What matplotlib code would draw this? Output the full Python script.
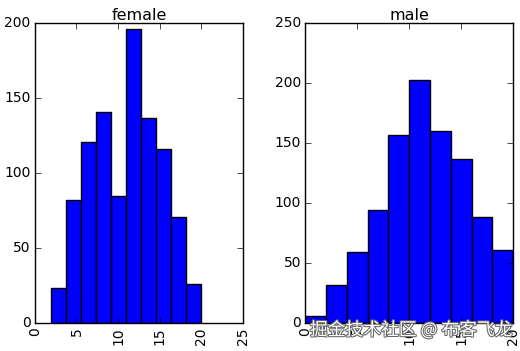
import numpy as np
import matplotlib.pyplot as plt
import matplotlib.patheffects as pe

plt.style.use('classic')

# conteos por bin
female_edges  = [2.0, 3.8, 5.6, 7.4, 9.2, 11.0, 12.8, 14.6, 16.4, 18.2, 20.0]
female_counts = [23, 82, 121, 141, 85, 196, 137, 116, 71, 26]
male_edges    = [0, 2, 4, 6, 8, 10, 12, 14, 16, 18, 20]
male_counts   = [6, 32, 59, 94, 157, 203, 160, 137, 88, 61]

fig = plt.figure(figsize=(5.2, 3.51), dpi=100, facecolor='white')
ax1 = fig.add_axes([0.067, 0.080, 0.400, 0.854])
ax2 = fig.add_axes([0.587, 0.080, 0.400, 0.854])

def histo(ax, edges, counts, title, xmax, ymax):
    edges = np.array(edges, dtype=float)
    ax.hist(edges[:-1], bins=edges, weights=counts, color='b', edgecolor='k', linewidth=1)
    ax.set_title(title, fontsize=11.5, pad=2)
    ax.set_xlim(0, xmax)
    ax.set_ylim(0, ymax)
    ax.tick_params(labelsize=10, pad=3)
    for lab in ax.get_xticklabels():
        lab.set_rotation(90)

histo(ax1, female_edges, female_counts, 'female', 25, 200)
histo(ax2, male_edges, male_counts, 'male', 20, 250)

# marca de agua
fig.text(0.985, 0.06, '掘金技术社区 @ 布客飞龙', ha='right', va='center',
         fontsize=12.8, color='white', family=['Noto Sans CJK SC', 'DejaVu Sans'],
         path_effects=[pe.withStroke(linewidth=1.5, foreground='#666666')])

plt.savefig('out.png', dpi=100, facecolor='white')
